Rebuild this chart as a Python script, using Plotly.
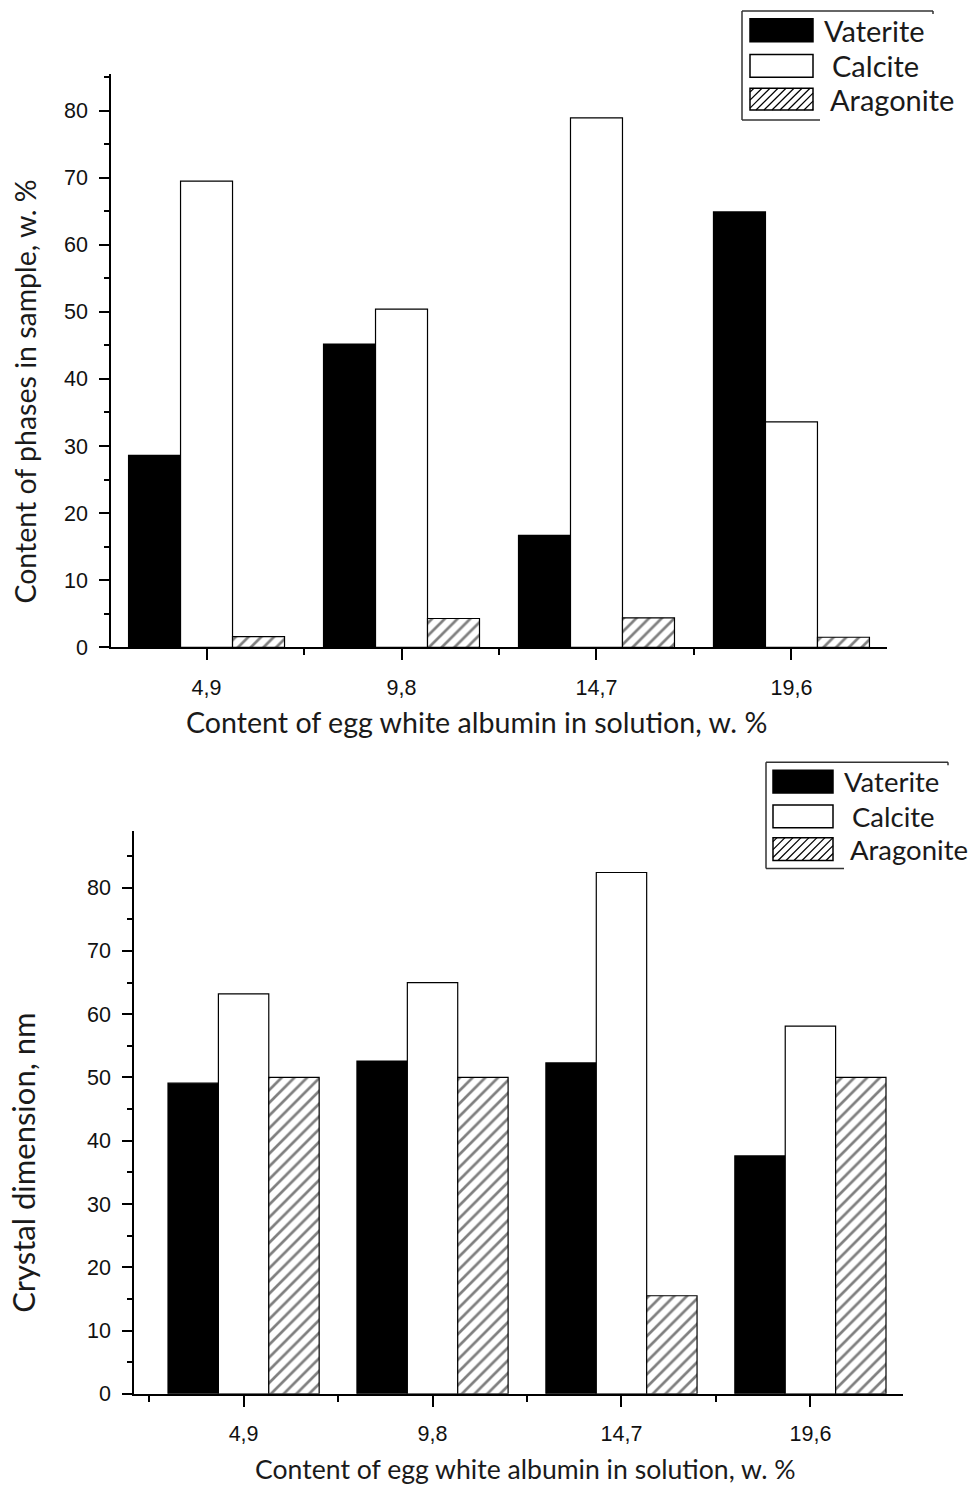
import plotly.graph_objects as go

W, H = 968, 1497

categories = ["4,9", "9,8", "14,7", "19,6"]
series_names = ["Vaterite", "Calcite", "Aragonite"]

# Top chart: phase content, w. %
phase_vaterite = [28.6, 45.2, 16.7, 64.9]
phase_calcite = [69.5, 50.4, 78.9, 33.6]
phase_aragonite = [1.6, 4.3, 4.4, 1.5]

# Bottom chart: crystal dimension, nm
size_vaterite = [49.1, 52.6, 52.3, 37.6]
size_calcite = [63.2, 65.0, 82.4, 58.1]
size_aragonite = [50.0, 50.0, 15.5, 50.0]

y_ticks = [0, 10, 20, 30, 40, 50, 60, 70, 80]


def X(px):
    return px / W


def Y(py):
    return 1 - py / H


xpos = list(range(len(categories)))

styles = {
    "Vaterite": dict(color="black"),
    "Calcite": dict(color="white"),
    "Aragonite": dict(color="white", pattern=dict(shape="/", size=9, solidity=0.3,
                                                  fgcolor="black", bgcolor="white")),
}

fig = go.Figure()


def add_bars(vals, name, xa, ya):
    st = styles[name]
    marker = dict(color=st["color"], line=dict(color="black", width=1.2))
    if "pattern" in st:
        marker["pattern"] = st["pattern"]
    fig.add_trace(go.Bar(x=xpos, y=vals, name=name, marker=marker,
                         xaxis=xa, yaxis=ya, showlegend=False, hoverinfo="skip"))


for vals, name in zip([phase_vaterite, phase_calcite, phase_aragonite], series_names):
    add_bars(vals, name, "x", "y")
for vals, name in zip([size_vaterite, size_calcite, size_aragonite], series_names):
    add_bars(vals, name, "x2", "y2")

tickfont = dict(family="Liberation Sans, Arial, sans-serif", size=21.5, color="#111")
axis_common = dict(showline=True, linecolor="black", linewidth=1.5, showgrid=False,
                   zeroline=False, ticks="outside", tickcolor="black", tickwidth=1.5,
                   tickfont=tickfont)

xaxis_common = dict(axis_common, tickmode="array", tickvals=xpos, ticktext=categories,
                    ticklen=11, ticklabelstandoff=9,
                    minor=dict(ticks="outside", tickvals=[-0.5, 0.5, 1.5, 2.5],
                               ticklen=6, tickcolor="black", tickwidth=1.5))
yaxis_common = dict(axis_common, tickmode="array", tickvals=y_ticks, ticklen=10,
                    ticklabelstandoff=7,
                    minor=dict(ticks="outside", dtick=5, tick0=0, ticklen=5,
                               tickcolor="black", tickwidth=1.5))

fig.update_layout(
    width=W, height=H,
    margin=dict(l=0, r=0, t=0, b=0),
    paper_bgcolor="white", plot_bgcolor="white",
    barmode="group", bargap=0.2, bargroupgap=0,
    xaxis=dict(xaxis_common, domain=[X(111), X(887)], range=[-0.49, 3.49], anchor="y"),
    yaxis=dict(yaxis_common, domain=[Y(653), Y(75)], range=[0, 85.4], anchor="x"),
    xaxis2=dict(xaxis_common, domain=[X(134), X(903)], range=[-0.58, 3.49], anchor="y2"),
    yaxis2=dict(yaxis_common, domain=[Y(1406), Y(838)], range=[0, 89], anchor="x2"),
)

title_family = "Lato, Open Sans, sans-serif"
ann = []
ann.append(dict(text="Content of egg white albumin in solution, w. %", x=X(476), y=Y(728),
                xref="paper", yref="paper", showarrow=False,
                font=dict(family=title_family, size=28.6, color="#1a1a1a"),
                xanchor="center", yanchor="middle"))
ann.append(dict(text="Content of egg white albumin in solution, w. %", x=X(525), y=Y(1482),
                xref="paper", yref="paper", showarrow=False,
                font=dict(family=title_family, size=26.6, color="#1a1a1a"),
                xanchor="center", yanchor="middle"))
ann.append(dict(text="Content of phases in sample, w. %", x=X(25), y=Y(395),
                xref="paper", yref="paper", showarrow=False,
                font=dict(family=title_family, size=28.5, color="#1a1a1a"), textangle=-90,
                xanchor="center", yanchor="middle"))
ann.append(dict(text="Crystal dimension, nm", x=X(23), y=Y(1173),
                xref="paper", yref="paper", showarrow=False,
                font=dict(family=title_family, size=31, color="#1a1a1a"), textangle=-90,
                xanchor="center", yanchor="middle"))

shapes = []


def line(x0, y0, x1, y1, w=1.5):
    shapes.append(dict(type="line", xref="paper", yref="paper", x0=X(x0), y0=Y(y0),
                       x1=X(x1), y1=Y(y1), line=dict(color="#333", width=w)))


def rect(x0, y0, x1, y1, fill):
    shapes.append(dict(type="rect", xref="paper", yref="paper", x0=X(x0), y0=Y(y0),
                       x1=X(x1), y1=Y(y1), fillcolor=fill,
                       line=dict(color="black", width=1.5)))


def hatch(x0, y0, x1, y1, step=8):
    rect(x0, y0, x1, y1, "white")
    c = x0 + y0 + step / 2
    while c < x1 + y1:
        sx = max(x0, c - y1)
        ex = min(x1, c - y0)
        if ex > sx:
            shapes.append(dict(type="line", xref="paper", yref="paper",
                               x0=X(sx), y0=Y(c - sx), x1=X(ex), y1=Y(c - ex),
                               line=dict(color="black", width=1.2)))
        c += step


def legend(fx, fy, fw, fh, sx, sw, rows, tx, fsize):
    # partial frame
    line(fx, fy, fx + fw, fy)
    line(fx, fy, fx, fy + fh)
    line(fx, fy + fh, fx + 78, fy + fh)
    line(fx + fw, fy, fx + fw, fy + 3)
    fills = ["black", "white", None]
    for (r0, r1), name, f, dx in zip(rows, series_names, fills, tx):
        if f is None:
            hatch(sx, r0, sx + sw, r1)
        else:
            rect(sx, r0, sx + sw, r1, f)
        ann.append(dict(text=name, x=X(dx), y=Y((r0 + r1) / 2), xref="paper", yref="paper",
                        showarrow=False, xanchor="left", yanchor="middle",
                        font=dict(family=title_family, size=fsize, color="#1a1a1a")))


legend(742, 11, 191, 110, 750, 63, [(19, 42), (55, 78), (89, 111)], [822, 830, 828], 29)
legend(766, 769, 182, 107, 773, 60, [(777, 800), (812, 835), (845, 868)], [842, 850, 848], 27.5)

fig.update_layout(annotations=ann, shapes=shapes)

post = (
    "var gd=document.getElementById('{plot_id}');"
    "var p=gd.parentElement;"
    "p.style.margin='0';p.style.padding='0';p.style.lineHeight='0';p.style.fontSize='0';"
    "p.style.height='1497px';p.style.width='968px';p.style.overflow='hidden';"
    "p.style.position='absolute';p.style.left='0';p.style.top='0';"
    "document.documentElement.style.margin='0';"
    "document.documentElement.style.overflow='hidden';"
    "document.body.style.margin='0';document.body.style.padding='0';"
    "document.body.style.overflow='hidden';"
)
fig.write_html("out.html", config={"displayModeBar": False}, post_script=post)
